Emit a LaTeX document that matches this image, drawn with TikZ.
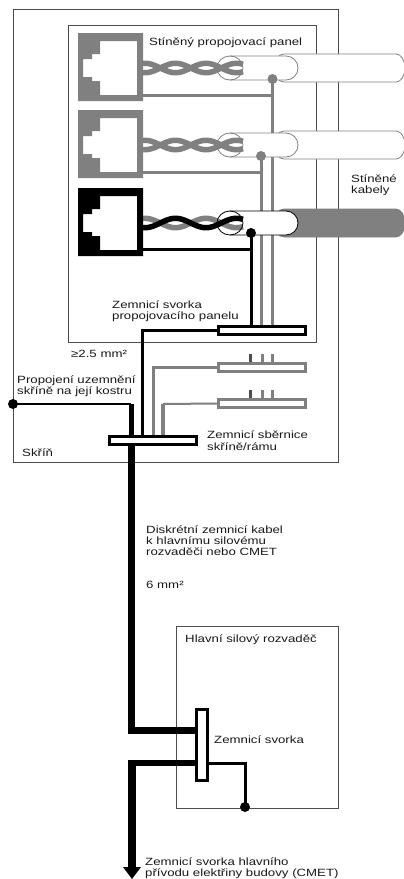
\documentclass[tikz,border=0pt]{standalone}
\usepackage{fontspec}
\setmainfont[FakeStretch=1.26]{Liberation Sans}
\definecolor{wg}{gray}{0.5}
\definecolor{boxg}{gray}{0.3}
\begin{document}
\begin{tikzpicture}[x=1pt,y=-1pt,
  lbl/.style={anchor=base west,inner sep=0pt,font=\fontsize{10.5}{11}\selectfont,text=black!90},
  enclosure/.style={draw=boxg,line width=1pt,fill=none},
  bar/.style={draw=#1,line width=3pt,fill=white,inner sep=0pt,minimum width=87pt,minimum height=8pt,rectangle},
  vbar/.style={draw=black,line width=3pt,fill=white,inner sep=0pt,minimum width=11pt,minimum height=71pt,rectangle},
  dotn/.style={circle,fill=#1,inner sep=0pt,minimum size=10pt},
  wire/.style={line width=#1,line join=miter},
  strand/.style={line width=5.5pt,draw=#1}]
\useasboundingbox (0,0) rectangle (404,879);
\fill[white] (0,0) rectangle (404,879);
% enclosures
\draw[enclosure] (13.5,9) rectangle (338,462);
\draw[enclosure] (68,25) rectangle (316,342);
\draw[enclosure] (176,626) rectangle (338,808);
% reusable cable + jack
\newcommand{\patch}[4]{% #1 centre y, #2 colour, #3 outer fill, #4 outer cable stroke
  \begin{scope}[yshift=-#1*1pt]
    \draw[draw=#4,line width=.8pt,fill=#3] (396,-14) -- (284,-14) arc[start angle=90,end angle=270,x radius=10,y radius=-14] -- (396,14) arc[start angle=-90,end angle=90,x radius=9,y radius=-14] -- cycle;
    \draw[draw=#2,line width=.8pt,fill=white] (230,-12) -- (286,-12) arc[start angle=90,end angle=-90,x radius=12,y radius=-12] -- (230,12);
    \draw[strand=wg,domain=143:243,samples=50,smooth] plot (\x,{-4.7*cos((\x-145)/61*360)});
    \draw[strand=#2,domain=143:243,samples=50,smooth] plot (\x,{4.7*cos((\x-145)/61*360)});
    \draw[draw=#2,line width=.8pt] (230,0) ellipse[x radius=13,y radius=12];
    \fill[#2,even odd rule] (78,-35) rectangle (143,33)
      (100,-27) -- (137,-27) -- (137,27) -- (100,27) -- (100,13) -- (92,13) -- (92,9) -- (83,9) -- (83,-9) -- (92,-9) -- (92,-14) -- (100,-14) -- cycle;
  \end{scope}}
% bars
\node[bar=black] (panelbar) at (262,330.5) {};
\node[bar=wg] (barB) at (262,367.5) {};
\node[bar=wg] (barC) at (262,403.5) {};
\node[bar=black] (mainbar) at (152.5,440) {};
\node[vbar] (term) at (202,745) {};
% coords
\coordinate (p1) at (272.5,79);
\coordinate (p2) at (261,156);
\coordinate (p3) at (251,233);
\coordinate (j1) at (143,95);
\coordinate (j2) at (143,172);
\coordinate (j3) at (143,249);
\coordinate (a1) at (142,331);
\coordinate (a2) at (153,367.5);
\coordinate (a3) at (163,404);
\coordinate (a4) at (131,404);
\coordinate (hi) at (131,730);
\coordinate (lo) at (132,763);
\coordinate (arrowend) at (132,868);
% panel ground wires (the cables lie over them)
\draw[wire=3pt,wg] (j1) -| (p1) -- (p1 |- panelbar.north);
\draw[wire=3pt,wg] (j2) -| (p2) -- (p2 |- panelbar.north);
\draw[wire=3pt,black] (j3) -| (p3) -- (p3 |- panelbar.north);
% cables
\patch{68}{wg}{white}{wg}
\patch{145}{wg}{white}{wg}
\patch{223}{black}{wg}{wg}
% dots
\node[dotn=wg] (d1) at (p1) {};
\node[dotn=wg] (d2) at (p2) {};
\node[dotn=black] (d3) at (p3) {};
\node[dotn=black] (dl) at (13,404) {};
\node[dotn=black] (dr) at (245,807) {};
% stubs
\foreach \xx/\yy/\cc in {250/362/boxg,262/362/wg,272/362/wg,250/398/boxg,262/398/wg,272/398/wg}{
  \draw[wire=3pt,\cc] (\xx,\yy) -- ++(0,-8);
}
% collectors
\draw[wire=3pt,black] (panelbar.west) -| (a1 |- mainbar.north);
\draw[wire=3pt,wg] (barB.west) -| (a2 |- mainbar.north);
\draw[wire=2pt,wg] (barC.west) -- (a3);
\draw[wire=4pt,wg] (a3) -- (a3 |- mainbar.north);
\draw[wire=2.5pt,black] (dl.center) -- (a4);
\draw[wire=5pt,black] (a4) -- (a4 |- mainbar.north);
% main earth
\draw[wire=7pt,black] (a4 |- mainbar.south) -- (hi) -- (hi -| term.west);
\draw[wire=6pt,black] (lo -| term.west) -- (lo);
\draw[wire=8pt,black] ([yshift=3pt]lo) -- (arrowend);
\fill[black] (123,867) -- (141,867) -- (132,879) -- cycle;
\draw[wire=3pt,black] (lo -| term.east) -| (dr.center);
% labels
\node[lbl] (t1) at (149,45) {Stíněný propojovací panel};
\node[lbl] (t2) at (351,182) {Stíněné};
\node[lbl] (t3) at (351,193) {kabely};
\node[lbl] (t4) at (112,308) {Zemnicí svorka};
\node[lbl] (t5) at (112,319) {propojovacího panelu};
\node[lbl] (t6) at (71,357) {≥2.5 mm²};
\node[lbl] (t7) at (17,383) {Propojení uzemnění};
\node[lbl] (t8) at (17,394) {skříně na její kostru};
\node[lbl] (t9) at (207,438) {Zemnicí sběrnice};
\node[lbl] (t10) at (207,450) {skříně/rámu};
\node[lbl] (t11) at (22,456) {Skříň};
\node[lbl] (t12) at (146,533) {Diskrétní zemnicí kabel};
\node[lbl] (t13) at (146,544) {k hlavnímu silovému};
\node[lbl] (t14) at (146,555) {rozvaděči nebo CMET};
\node[lbl] (t15) at (146,588) {6 mm²};
\node[lbl] (t16) at (185,642) {Hlavní silový rozvaděč};
\node[lbl] (t17) at (214,743) {Zemnicí svorka};
\node[lbl] (t18) at (145,865) {Zemnicí svorka hlavního};
\node[lbl] (t19) at (145,876) {přívodu elektřiny budovy (CMET)};
\end{tikzpicture}
\end{document}
